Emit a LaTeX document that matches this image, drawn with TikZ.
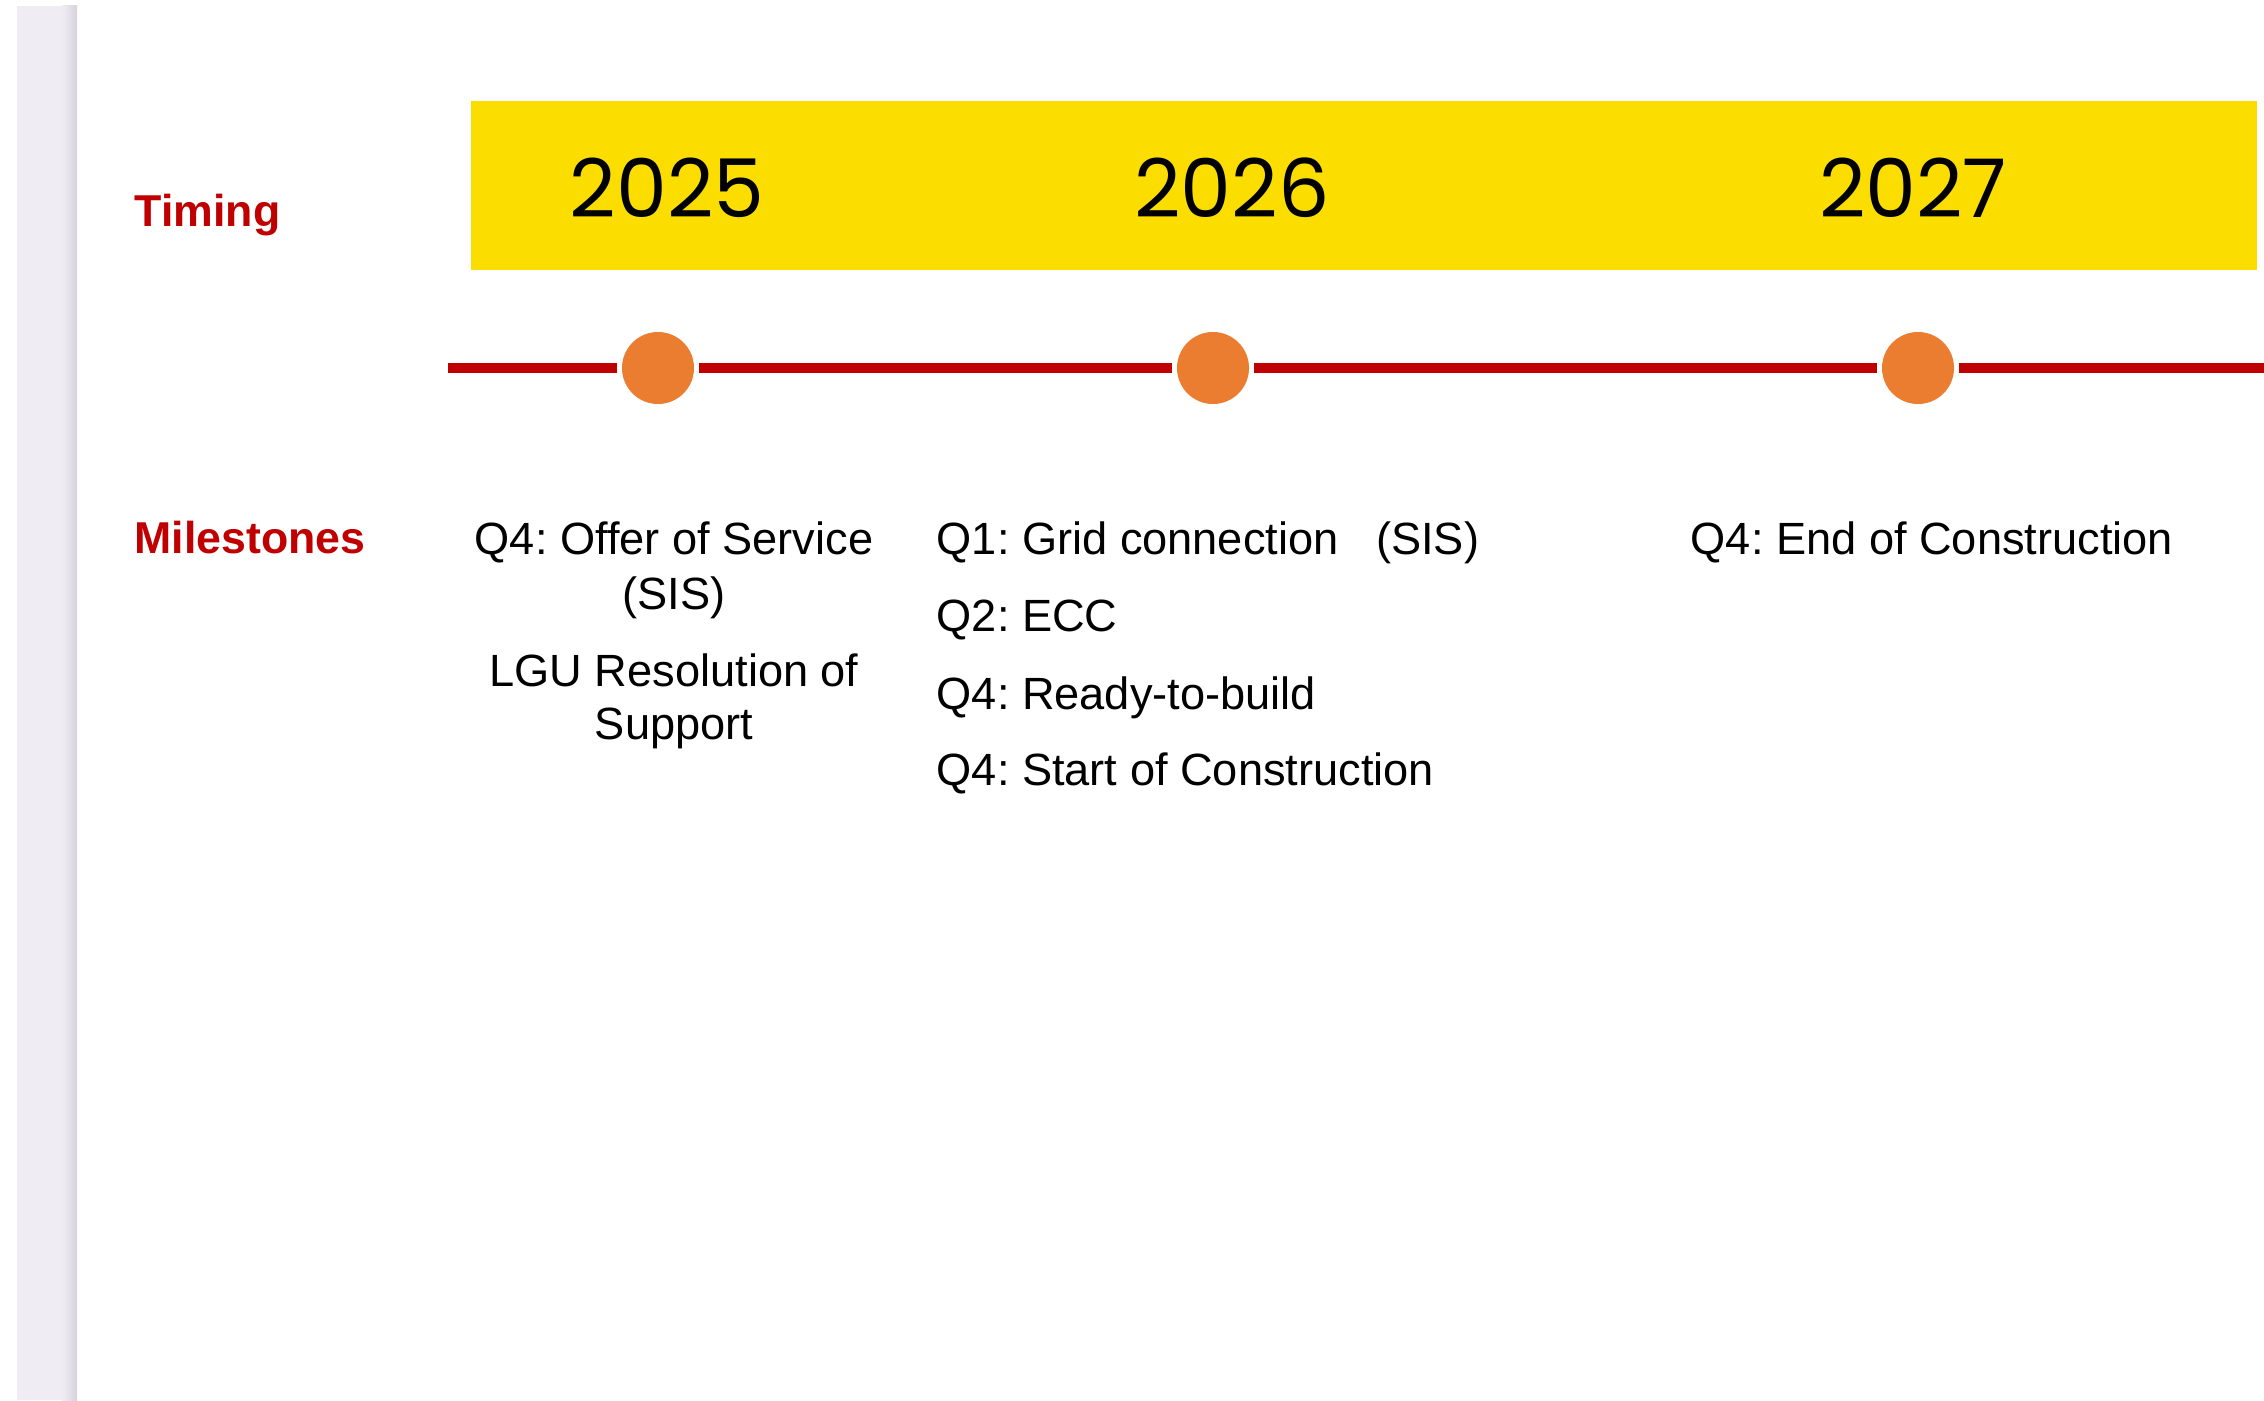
\documentclass[tikz,border=0pt]{standalone}
\usepackage{fontspec}
\setmainfont{Liberation Sans}
\newfontfamily\yearfont{Poppins}
\frenchspacing
\definecolor{bandyellow}{RGB}{251,221,0}
\definecolor{linered}{RGB}{192,0,0}
\definecolor{dotorange}{RGB}{235,125,49}
\definecolor{stripgrey}{RGB}{239,237,243}
\definecolor{stripedge}{RGB}{214,210,219}
\begin{document}
\begin{tikzpicture}[x=0.01cm,y=-0.01cm,
  heading/.style={font=\fontsize{12.7}{15}\selectfont\bfseries, text=linered, inner sep=0pt, anchor=base west},
  yearlabel/.style={font=\yearfont\fontsize{23}{28}\selectfont, text=black, inner sep=0pt, anchor=base},
  milestone/.style={font=\fontsize{12.85}{15.6}\selectfont, text=black, inner sep=0pt},
  dotnode/.style={circle, fill=dotorange, minimum size=0.72cm, inner sep=0pt, outer sep=1.4pt},
  timeline/.style={draw=linered, line width=2.85pt}
]
\useasboundingbox (0,0) rectangle (2264,1400);
% left grey strip
\fill[stripgrey] (17,6) rectangle (77,1400);
\shade[left color=stripgrey, right color=stripedge] (62,6) rectangle (77,1400);
% yellow band
\fill[bandyellow] (471,101) rectangle (2257,270);
% headings
\node[heading] (timing) at (134,226) {Timing};
\node[heading] (milestones) at (134,553) {Milestones};
% years
\node[yearlabel] (y2025) at (667,218) {2025};
\node[yearlabel] (y2026) at (1232,218) {2026};
\node[yearlabel] (y2027) at (1913,218) {2027};
% timeline
\coordinate (lstart) at (448,368);
\coordinate (lend) at (2264,368);
\node[dotnode] (d1) at (658,368) {};
\node[dotnode] (d2) at (1213,368) {};
\node[dotnode] (d3) at (1918,368) {};
\draw[timeline] (lstart) -- (d1);
\draw[timeline] (d1) -- (d2);
\draw[timeline] (d2) -- (d3);
\draw[timeline] (d3) -- (lend);
% milestones column 1
\node[milestone, anchor=base] (m1a) at (674,554) {Q4: Offer of Service};
\node[milestone, anchor=base] (m1b) at (674,609) {(SIS)};
\node[milestone, anchor=base] (m1c) at (674,686) {LGU Resolution of};
\node[milestone, anchor=base] (m1d) at (674,739) {Support};
% milestones column 2
\node[milestone, anchor=base west] (m2a) at (936,554) {Q1: Grid connection\ \ \ (SIS)};
\node[milestone, anchor=base west] (m2b) at (936,631) {Q2: ECC};
\node[milestone, anchor=base west] (m2c) at (936,709) {Q4: Ready-to-build};
\node[milestone, anchor=base west] (m2d) at (936,785) {Q4: Start of Construction};
% milestones column 3
\node[milestone, anchor=base west] (m3a) at (1690,554) {Q4: End of Construction};
\end{tikzpicture}
\end{document}
